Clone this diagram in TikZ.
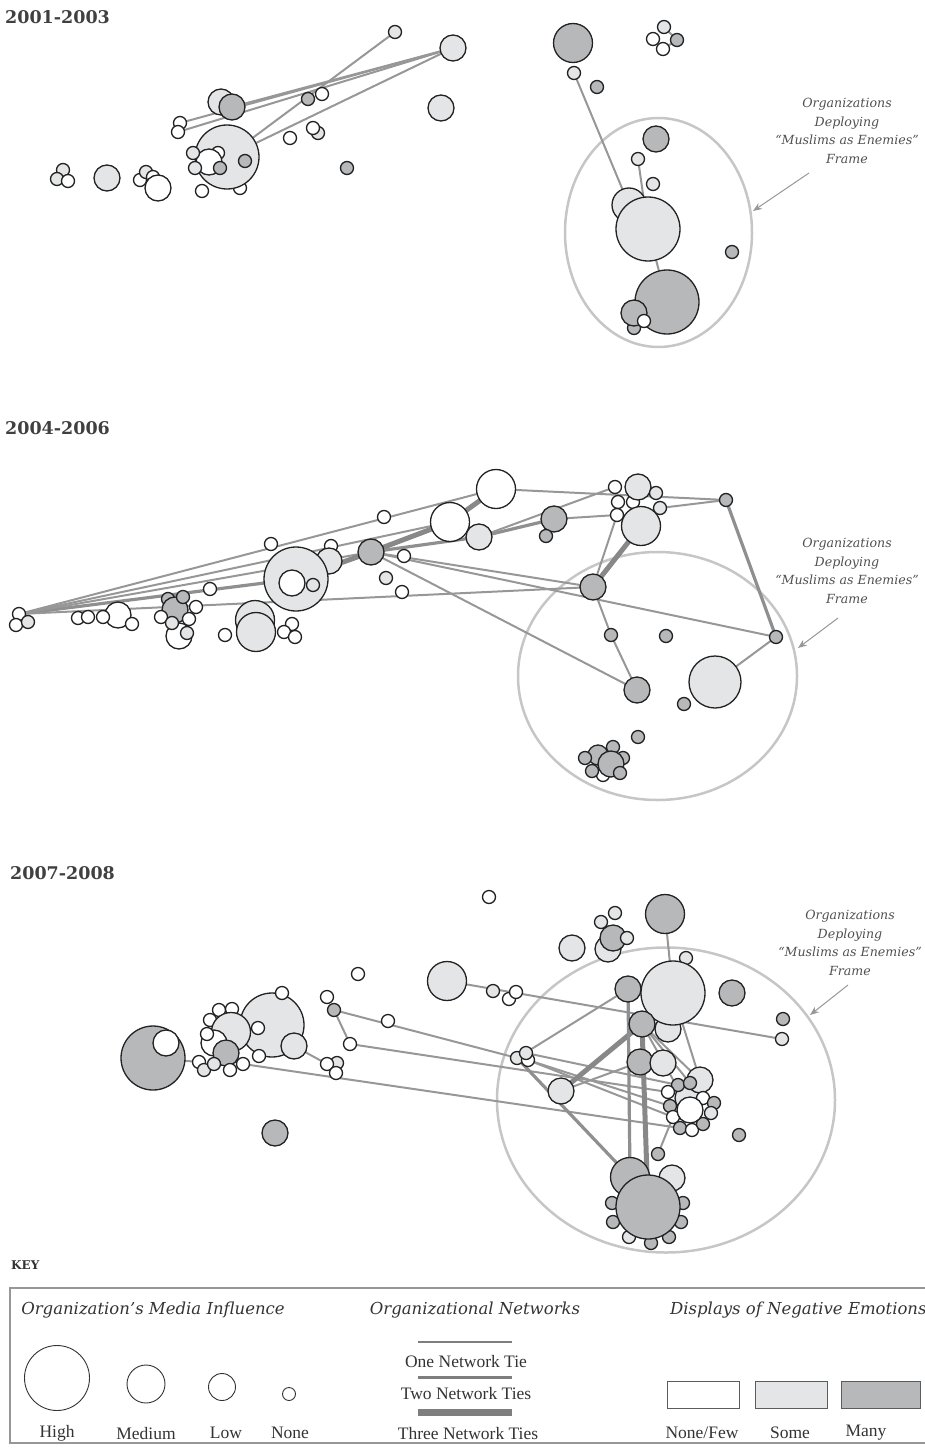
\documentclass[tikz,border=0pt]{standalone}
\usepackage{fontspec}
\setmainfont{Liberation Serif}
\newfontfamily\dvs{DejaVu Serif}
\usetikzlibrary{backgrounds,shapes.geometric,arrows.meta}
\definecolor{lightfill}{HTML}{E4E5E7}
\definecolor{darkfill}{HTML}{B7B8BA}
\definecolor{nodeline}{HTML}{222222}
\definecolor{edgecol}{HTML}{979797}
\definecolor{framecol}{HTML}{C6C6C6}
\definecolor{anncol}{HTML}{505050}
\definecolor{titlecol}{HTML}{404040}
\definecolor{keyline}{HTML}{7E7E7E}
\definecolor{keytext}{HTML}{333333}
\newcommand\org[4]{\node[#1] (#2) at (#3,#4) {};}
\newcommand\tie[3]{\draw[#1] (#2) -- (#3);}
\begin{document}
\begin{tikzpicture}[x=1pt,y=-1pt,
  nd/.style={circle, draw=nodeline, line width=1.3pt, inner sep=0pt, outer sep=0pt},
  wf/.style={nd, fill=white},
  lf/.style={nd, fill=lightfill},
  df/.style={nd, fill=darkfill},
  szN/.style={minimum size=13pt},
  szL/.style={minimum size=26pt},
  szM/.style={minimum size=39pt},
  szH/.style={minimum size=64pt},
  t1/.style={draw=edgecol, line width=2pt},
  t2/.style={draw=edgecol!95!black, line width=3.2pt},
  t3/.style={draw=edgecol!90!black, line width=5pt},
  frame/.style={ellipse, draw=framecol, line width=2.5pt, inner sep=0pt},
  ann/.style={align=center, font=\dvs\itshape\fontsize{12.6}{18.5}\selectfont, text=anncol, inner sep=0pt},
  annarrow/.style={draw=edgecol, line width=1pt, -{Stealth[length=9pt,width=7pt]}},
  title/.style={anchor=west, font=\dvs\bfseries\fontsize{17.5}{20}\selectfont, text=titlecol, inner sep=0pt},
  keyital/.style={font=\dvs\itshape\fontsize{16.5}{19}\selectfont, text=keytext, inner sep=0pt},
  keylab/.style={font=\fontsize{17.5}{20}\selectfont, text=keytext, inner sep=0pt},
  keycirc/.style={circle, draw=keytext, line width=0.9pt, fill=white, inner sep=0pt},
  keysq/.style={rectangle, draw=keytext!80, line width=0.9pt, inner sep=0pt},
  keytie/.style={draw=keyline},
]
\useasboundingbox (0,0) rectangle (925,1450);

%% ---------------- Panel 1: 2001-2003 ----------------
\node[title] (p1t) at (5,17) {2001-2003};
\org{lf,szN}{a1}{395}{32}
\org{lf,szL}{a2}{453}{48}
\org{lf,szL}{a3}{221}{102}
\org{df,szL}{a4}{232}{107}
\org{df,szN}{a5}{308}{99}
\org{wf,szN}{a6}{322}{94}
\org{lf,szL}{a7}{441}{108}
\org{wf,szN}{a8}{180}{123}
\org{wf,szN}{a9}{178}{132}
\org{lf,szN}{a10}{318}{133}
\org{wf,szN}{a11}{313}{128}
\org{wf,szN}{a12}{290}{138}
\org{wf,szN}{a13}{240}{188}
\org{lf,szH}{a14}{227}{157}
\org{df,szN}{a15}{245}{161}
\org{wf,szN}{a16}{218}{153}
\org{wf,szL}{a17}{209}{162}
\org{lf,szN}{a18}{193}{153}
\org{lf,szN}{a19}{195}{168}
\org{df,szN}{a20}{220}{168}
\org{wf,szN}{a21}{202}{191}
\org{df,szN}{a22}{347}{168}
\org{lf,szN}{a23}{63}{170}
\org{lf,szN}{a24}{57}{179}
\org{wf,szN}{a25}{68}{181}
\org{lf,szL}{a26}{107}{178}
\org{wf,szN}{a27}{140}{180}
\org{lf,szN}{a28}{146}{172}
\org{wf,szN}{a29}{153}{177}
\org{wf,szL}{a30}{158}{188}
\org{df,szM}{b1}{573}{43}
\org{lf,szN}{b2}{574}{73}
\org{df,szN}{b3}{597}{87}
\org{wf,szN}{b4}{653}{39}
\org{lf,szN}{b5}{664}{27}
\org{df,szN}{b6}{677}{40}
\org{wf,szN}{b7}{663}{49}
\org{df,szL}{b8}{656}{139}
\org{lf,szN}{b9}{638}{159}
\org{lf,szN}{b10}{653}{184}
\org{lf,minimum size=34pt}{b11}{629}{205}
\org{lf,szH}{b12}{648}{229}
\org{df,szN}{b13}{732}{252}
\org{df,szH}{b14}{667}{302}
\org{df,szN}{b15}{634}{328}
\org{df,szL}{b16}{634}{313}
\org{wf,szN}{b17}{644}{321}
\node[ann] (n1) at (847,131) {Organizations\\Deploying\\“Muslims as Enemies”\\Frame};
\coordinate (r1s) at (809,173);
\coordinate (r1e) at (753,211);
\draw[annarrow] (r1s) -- (r1e);

%% ---------------- Panel 2: 2004-2006 ----------------
\node[title] (p2t) at (5,428) {2004-2006};
\org{wf,szN}{c1}{19}{614}
\org{wf,szN}{c2}{16}{625}
\org{lf,szN}{c3}{28}{622}
\org{wf,szN}{c4}{78}{618}
\org{wf,szN}{c5}{88}{617}
\org{wf,szL}{c7}{118}{615}
\org{wf,szN}{c6}{103}{617}
\org{wf,szN}{c8}{132}{624}
\org{wf,szL}{c9}{179}{636}
\org{df,szN}{c10}{168}{599}
\org{df,szL}{c11}{175}{610}
\org{df,szN}{c12}{183}{597}
\org{wf,szN}{c13}{196}{607}
\org{wf,szN}{c14}{161}{617}
\org{lf,szN}{c15}{172}{623}
\org{wf,szN}{c16}{189}{619}
\org{lf,szN}{c17}{187}{633}
\org{wf,szN}{c18}{210}{589}
\org{wf,szN}{c19}{271}{544}
\org{wf,szN}{c23}{331}{546}
\org{lf,szL}{c24}{329}{561}
\org{lf,szH}{c20}{296}{579}
\org{wf,szL}{c21}{292}{583}
\org{lf,szN}{c22}{313}{585}
\org{lf,szM}{c25}{255}{620}
\org{lf,szM}{c26}{256}{632}
\org{wf,szN}{c27}{225}{635}
\org{wf,szN}{c28}{292}{624}
\org{wf,szN}{c29}{284}{632}
\org{wf,szN}{c30}{295}{637}
\org{df,szL}{c31}{371}{552}
\org{wf,szN}{c32}{404}{556}
\org{wf,szN}{c33}{384}{517}
\org{lf,szN}{c34}{386}{578}
\org{wf,szN}{c35}{402}{592}
\org{wf,szM}{c36}{450}{522}
\org{wf,szM}{c37}{496}{489}
\org{lf,szL}{c38}{479}{537}
\org{df,szL}{c39}{554}{519}
\org{df,szN}{c40}{546}{536}
\org{wf,szN}{c41}{615}{487}
\org{wf,szN}{c42}{618}{502}
\org{wf,szN}{c43}{633}{502}
\org{wf,szN}{c44}{617}{515}
\org{lf,szL}{c45}{638}{487}
\org{lf,szN}{c46}{656}{493}
\org{lf,szN}{c47}{660}{508}
\org{lf,szM}{c48}{641}{526}
\org{df,szN}{c49}{726}{500}
\org{df,szL}{c50}{593}{587}
\org{df,szN}{c51}{776}{637}
\org{df,szN}{c52}{611}{635}
\org{df,szN}{c53}{666}{636}
\org{df,szL}{c54}{637}{690}
\org{lf,minimum size=52pt}{c55}{715}{682}
\org{df,szN}{c56}{684}{704}
\org{df,szN}{c57}{638}{737}
\org{df,minimum size=20pt}{c58}{598}{755}
\org{df,szN}{c59}{585}{758}
\org{df,szN}{c60}{613}{747}
\org{df,szN}{c61}{623}{758}
\org{wf,szN}{c62}{603}{775}
\org{df,szL}{c63}{611}{764}
\org{df,szN}{c64}{592}{771}
\org{df,szN}{c65}{620}{773}
\node[ann] (n2) at (847,571) {Organizations\\Deploying\\“Muslims as Enemies”\\Frame};
\coordinate (r2s) at (838,618);
\coordinate (r2e) at (798,648);
\draw[annarrow] (r2s) -- (r2e);

%% ---------------- Panel 3: 2007-2008 ----------------
\node[title] (p3t) at (10,873) {2007-2008};
\org{wf,szN}{e1}{489}{897}
\org{wf,szN}{e2}{358}{974}
\org{lf,szM}{e3}{447}{981}
\org{lf,szN}{e4}{493}{991}
\org{wf,szN}{e5}{509}{999}
\org{wf,szN}{e6}{516}{992}
\org{wf,szN}{e7}{327}{997}
\org{df,szN}{e8}{334}{1010}
\org{wf,szN}{e9}{388}{1021}
\org{wf,szN}{e10}{350}{1044}
\org{lf,szH}{e11}{272}{1025}
\org{wf,szN}{e12}{282}{993}
\org{wf,szN}{e15}{210}{1020}
\org{wf,szN}{e16}{219}{1010}
\org{wf,szN}{e17}{232}{1009}
\org{lf,szM}{e14}{231}{1032}
\org{wf,szN}{e30}{258}{1028}
\org{wf,szL}{e18}{214}{1043}
\org{wf,szN}{e31}{207}{1034}
\org{df,szL}{e19}{226}{1053}
\org{df,szH}{e20}{153}{1058}
\org{wf,szL}{e21}{166}{1043}
\org{wf,szN}{e22}{199}{1062}
\org{lf,szN}{e23}{204}{1070}
\org{lf,szN}{e24}{214}{1064}
\org{wf,szN}{e25}{230}{1070}
\org{wf,szN}{e26}{243}{1064}
\org{wf,szN}{e27}{259}{1056}
\org{lf,szL}{e29}{294}{1046}
\org{lf,szN}{e33}{337}{1063}
\org{wf,szN}{e32}{327}{1064}
\org{wf,szN}{e34}{336}{1073}
\org{df,szL}{e35}{275}{1133}
\org{lf,szN}{e38}{615}{913}
\org{lf,szN}{e39}{601}{922}
\org{lf,szL}{e40}{608}{949}
\org{df,szL}{e41}{613}{938}
\org{lf,szN}{e42}{627}{938}
\org{lf,szL}{e37}{572}{948}
\org{df,szM}{e36}{665}{914}
\org{lf,szN}{e43}{686}{958}
\org{lf,szL}{e49}{668}{1029}
\org{lf,szH}{e45}{673}{993}
\org{df,szL}{e44}{628}{989}
\org{df,szL}{e50}{642}{1024}
\org{df,szL}{e46}{732}{993}
\org{df,szN}{e47}{783}{1019}
\org{lf,szN}{e48}{782}{1039}
\org{lf,szN}{e69}{517}{1058}
\org{wf,szN}{e71}{528}{1060}
\org{lf,szN}{e70}{526}{1053}
\org{lf,szL}{e72}{561}{1091}
\org{df,szL}{e51}{640}{1062}
\org{lf,szL}{e52}{663}{1063}
\org{lf,szL}{e85}{688}{1098}
\org{lf,szL}{e53}{700}{1080}
\org{df,szN}{e54}{678}{1085}
\org{df,szN}{e55}{690}{1083}
\org{wf,szN}{e75}{668}{1092}
\org{wf,szN}{e83}{703}{1098}
\org{df,szN}{e82}{714}{1103}
\org{lf,szN}{e81}{711}{1113}
\org{df,szN}{e77}{670}{1106}
\org{wf,szN}{e78}{673}{1117}
\org{df,szN}{e76}{680}{1128}
\org{wf,szN}{e79}{692}{1130}
\org{df,szN}{e80}{703}{1124}
\org{wf,szL}{e56}{690}{1110}
\org{df,szN}{e57}{739}{1135}
\org{df,szN}{e58}{658}{1154}
\org{df,szN}{e62}{612}{1203}
\org{df,szN}{e63}{683}{1203}
\org{df,szN}{e64}{613}{1222}
\org{df,szN}{e65}{681}{1222}
\org{lf,szN}{e66}{629}{1237}
\org{df,szN}{e67}{651}{1243}
\org{df,szN}{e68}{669}{1237}
\org{df,szM}{e59}{630}{1177}
\org{lf,szL}{e60}{672}{1178}
\org{df,szH}{e61}{648}{1207}
\node[ann] (n3) at (850,943) {Organizations\\Deploying\\“Muslims as Enemies”\\Frame};
\coordinate (r3s) at (848,985);
\coordinate (r3e) at (810,1015);
\draw[annarrow] (r3s) -- (r3e);

%% ---------------- frames and ties (behind) ----------------
\begin{pgfonlayer}{background}
\node[frame, minimum width=187pt, minimum height=229pt] (f1) at (658.5,232.5) {};
\node[frame, minimum width=279pt, minimum height=248pt] (f2) at (657.5,676) {};
\node[frame, minimum width=338pt, minimum height=305pt] (f3) at (666,1100) {};
% panel 1
\tie{t1}{a1}{a14}
\tie{t1}{a2}{a4}
\tie{t1}{a2}{a8}
\tie{t1}{a2}{a9}
\tie{t1}{a2}{a14}
\tie{t1}{b2}{b11}
\tie{t1}{b9}{b12}
\tie{t1}{b12}{b14}
\tie{t1}{b5}{b6}
\tie{t1}{b6}{b7}
% panel 2
\tie{t1}{c1}{c37}
\tie{t1}{c1}{c36}
\tie{t2}{c1}{c20}
\tie{t1}{c1}{c31}
\tie{t1}{c1}{c50}
\tie{t3}{c20}{c31}
\tie{t3}{c31}{c36}
\tie{t3}{c36}{c37}
\tie{t2}{c31}{c38}
\tie{t2}{c38}{c39}
\tie{t1}{c38}{c41}
\tie{t1}{c39}{c44}
\tie{t1}{c37}{c49}
\tie{t1}{c47}{c49}
\tie{t2}{c49}{c51}
\tie{t1}{c51}{c55}
\tie{t3}{c50}{c48}
\tie{t1}{c50}{c44}
\tie{t1}{c50}{c52}
\tie{t1}{c52}{c54}
\tie{t1}{c31}{c50}
\tie{t1}{c31}{c54}
\tie{t1}{c31}{c51}
% panel 3
\tie{t1}{e36}{e45}
\tie{t1}{e3}{e48}
\tie{t1}{e8}{e69}
\tie{t1}{e8}{e10}
\tie{t1}{e10}{e75}
\tie{t1}{e26}{e76}
\tie{t1}{e20}{e22}
\tie{t1}{e29}{e32}
\tie{t1}{e69}{e44}
\tie{t2}{e69}{e59}
\tie{t1}{e70}{e54}
\tie{t1}{e71}{e77}
\tie{t1}{e71}{e78}
\tie{t3}{e72}{e50}
\tie{t1}{e72}{e51}
\tie{t2}{e44}{e59}
\tie{t3}{e50}{e61}
\tie{t1}{e50}{e53}
\tie{t1}{e50}{e55}
\tie{t1}{e50}{e56}
\tie{t1}{e45}{e53}
\tie{t1}{e58}{e78}
\end{pgfonlayer}

%% ---------------- Key ----------------
\node[anchor=west, font=\dvs\bfseries\fontsize{12}{14}\selectfont, text=keytext, inner sep=0pt] (key) at (11,1265) {KEY};
\draw[draw=edgecol, line width=2pt] (10,1288) rectangle (940,1443);
\node[keyital] (h1) at (153,1310) {Organization’s Media Influence};
\node[keyital] (h2) at (475,1310) {Organizational Networks};
\node[keyital, anchor=west] (h3) at (670,1310) {Displays of Negative Emotions};
\node[keycirc, minimum size=65pt] (kc1) at (57,1378) {};
\node[keycirc, minimum size=38pt] (kc2) at (146,1384) {};
\node[keycirc, minimum size=27pt] (kc3) at (222,1387) {};
\node[keycirc, minimum size=13pt] (kc4) at (289,1394) {};
\node[keylab] (kl1) at (57,1433) {High};
\node[keylab] (kl2) at (146,1433) {Medium};
\node[keylab] (kl3) at (226,1433) {Low};
\node[keylab] (kl4) at (290,1433) {None};
\coordinate (k1a) at (418,1342); \coordinate (k1b) at (512,1342);
\coordinate (k2a) at (418,1377); \coordinate (k2b) at (512,1377);
\coordinate (k3a) at (418,1412); \coordinate (k3b) at (512,1412);
\draw[keytie, line width=2pt] (k1a) -- (k1b);
\draw[keytie, line width=3pt] (k2a) -- (k2b);
\draw[keytie, line width=7pt] (k3a) -- (k3b);
\node[keylab] (kt1) at (466,1361) {One Network Tie};
\node[keylab] (kt2) at (466,1393) {Two Network Ties};
\node[keylab] (kt3) at (468,1433) {Three Network Ties};
\node[keysq, fill=white, minimum width=72pt, minimum height=27pt] (ks1) at (703,1395) {};
\node[keysq, fill=lightfill, minimum width=72pt, minimum height=27pt] (ks2) at (791,1395) {};
\node[keysq, fill=darkfill, minimum width=79pt, minimum height=27pt] (ks3) at (880.5,1395) {};
\node[keylab] (ke1) at (702,1433) {None/Few};
\node[keylab] (ke2) at (790,1433) {Some};
\node[keylab] (ke3) at (866,1433) {Many};
\end{tikzpicture}
\end{document}
